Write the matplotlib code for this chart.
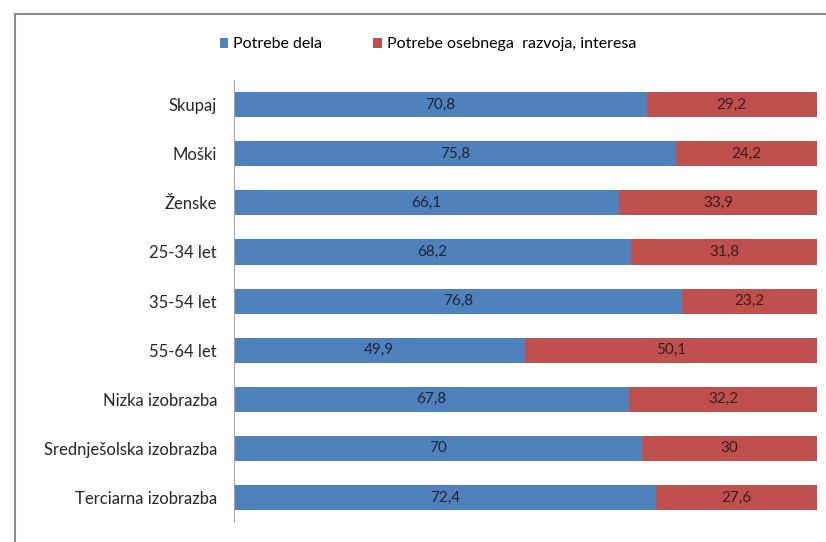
import matplotlib.pyplot as plt
from matplotlib.patches import Rectangle

categories = [
    "Skupaj",
    "Moški",
    "Ženske",
    "25-34 let",
    "35-54 let",
    "55-64 let",
    "Nizka izobrazba",
    "Srednješolska izobrazba",
    "Terciarna izobrazba",
]
work_needs = [70.8, 75.8, 66.1, 68.2, 76.8, 49.9, 67.8, 70, 72.4]
personal_needs = [29.2, 24.2, 33.9, 31.8, 23.2, 50.1, 32.2, 30, 27.6]
series_names = ["Potrebe dela", "Potrebe osebnega  razvoja, interesa"]

BLUE = "#4F81BD"
RED = "#C0504D"

plt.rcParams["font.family"] = ["Lato", "DejaVu Sans"]


def fmt(v):
    return f"{v:g}".replace(".", ",")


def main():
    fig = plt.figure(figsize=(8.26, 5.42), dpi=100)
    ax = fig.add_axes([0.283, 0.037, 0.706, 0.815])

    # outer chart border (Excel style)
    fig.patches.append(Rectangle((15 / 826, -0.1), 1.2, 1 - 14 / 542 + 0.1,
                                 transform=fig.transFigure, fill=False,
                                 edgecolor="#8c8c8c", linewidth=1.5))

    y = list(range(len(categories)))
    b1 = ax.barh(y, work_needs, height=0.51, color=BLUE, label=series_names[0])
    b2 = ax.barh(y, personal_needs, left=work_needs, height=0.51, color=RED,
                 label=series_names[1])

    for i in y:
        ax.text(work_needs[i] / 2, i, fmt(work_needs[i]), ha="center", va="center",
                fontsize=11, color="#1c2533")
        ax.text(work_needs[i] + personal_needs[i] / 2, i, fmt(personal_needs[i]),
                ha="center", va="center", fontsize=11, color="#3a1c1c")

    ax.set_yticks(y)
    ax.set_yticklabels(categories, fontsize=12, color="#262626")
    ax.set_ylim(len(categories) - 0.5, -0.5)
    ax.set_xlim(0, 100)
    ax.set_xticks([])
    ax.tick_params(axis="y", length=0, pad=12)
    for s in ["top", "right", "bottom"]:
        ax.spines[s].set_visible(False)
    ax.spines["left"].set_color("#a6a6a6")

    fig.legend(handles=[b1, b2], loc="center", bbox_to_anchor=(0.518, 0.918),
               ncol=2, frameon=False, fontsize=11.5, handlelength=0.55,
               handleheight=0.55, handletextpad=0.3, columnspacing=3.2)

    fig.savefig("out.png", dpi=100)
    plt.close(fig)


if __name__ == "__main__":
    main()
